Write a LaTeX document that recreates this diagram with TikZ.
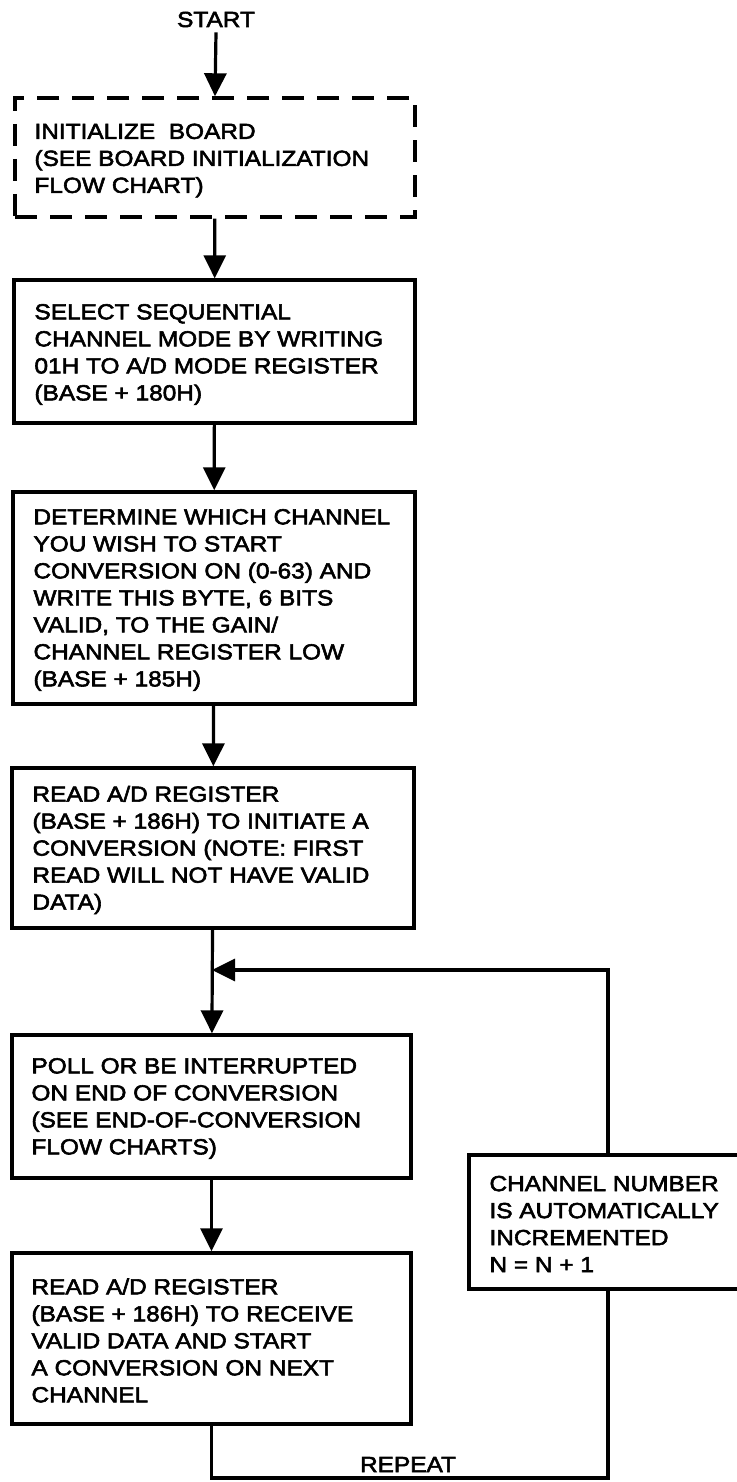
\documentclass[tikz,border=0pt]{standalone}
\usepackage{fontspec}
\setmainfont{Liberation Sans}[FakeStretch=1.12,FakeBold=2.6]
\usetikzlibrary{arrows.meta,calc}

\tikzset{
  stepbox/.style={draw, line width=3.4pt, inner sep=0pt},
  dashbox/.style={stepbox, dash pattern=on 22pt off 13pt},
  txt/.style={anchor=west, align=left, inner sep=0pt,
    font=\fontsize{21.8}{27}\selectfont},
  wire/.style={line width=3.2pt},
  flow/.style={wire, -{Triangle[length=23pt,width=22pt]}}
}

\begin{document}
\begin{tikzpicture}[x=1pt,y=-1pt]
\useasboundingbox (0,0) rectangle (736,1482);

% start label
\node[txt,anchor=base] (start) at (216,27) {START};

% main column of steps
\node[dashbox,minimum width=400pt,minimum height=119pt] (init) at (215,157.5) {};
\node[txt] (initT) at ($(init.west)+(21,3)$)
  {INITIALIZE\ \ BOARD\\(SEE BOARD INITIALIZATION\\FLOW CHART)};

\node[stepbox,minimum width=401pt,minimum height=143pt] (mode) at (214.5,351.5) {};
\node[txt] (modeT) at ($(mode.west)+(22,3)$)
  {SELECT SEQUENTIAL\\CHANNEL MODE BY WRITING\\01H TO A/D MODE REGISTER\\(BASE + 180H)};

\node[stepbox,minimum width=402pt,minimum height=212pt] (chan) at (214,598) {};
\node[txt] (chanT) at ($(chan.west)+(22,2)$)
  {DETERMINE WHICH CHANNEL\\YOU WISH TO START\\CONVERSION ON (0-63) AND\\WRITE THIS BYTE, 6 BITS\\VALID, TO THE GAIN/\\CHANNEL REGISTER LOW\\(BASE + 185H)};

\node[stepbox,minimum width=402pt,minimum height=160pt] (rdA) at (213,848) {};
\node[txt] (rdAT) at ($(rdA.west)+(22,2)$)
  {READ A/D REGISTER\\(BASE + 186H) TO INITIATE A\\CONVERSION (NOTE: FIRST\\READ WILL NOT HAVE VALID\\DATA)};

\node[stepbox,minimum width=399pt,minimum height=143pt] (poll) at (211.5,1106.5) {};
\node[txt] (pollT) at ($(poll.west)+(21,2)$)
  {POLL OR BE INTERRUPTED\\ON END OF CONVERSION\\(SEE END-OF-CONVERSION\\FLOW CHARTS)};

\node[stepbox,minimum width=399pt,minimum height=171pt] (rdB) at (211.5,1338.5) {};
\node[txt] (rdBT) at ($(rdB.west)+(21,2)$)
  {READ A/D REGISTER\\(BASE + 186H) TO RECEIVE\\VALID DATA AND START\\A CONVERSION ON NEXT\\CHANNEL};

% side step on the return path
\node[stepbox,minimum width=291pt,minimum height=134pt] (inc) at (614.5,1222) {};
\node[txt] (incT) at ($(inc.west)+(22,2)$)
  {CHANNEL NUMBER\\IS AUTOMATICALLY\\INCREMENTED\\N = N + 1};

% forward connectors
\draw[flow] (start.south) ++(0,5) -- (init.north);
\draw[flow] (init) -- (mode);
\draw[flow] (mode) -- (chan);
\draw[flow] (chan) -- (rdA);
\draw[flow] (rdA) -- (poll);
\draw[flow] (poll) -- (rdB);

% repeat loop
\coordinate (join) at (212,970);
\coordinate (lp) at (608,1478);
\draw[wire] (rdB.south) |- (lp) -- (lp |- inc.south);
\draw[flow] (lp |- inc.north) |- (join);
\node[txt,anchor=base] (rep) at (408,1472) {REPEAT};
\end{tikzpicture}
\end{document}
